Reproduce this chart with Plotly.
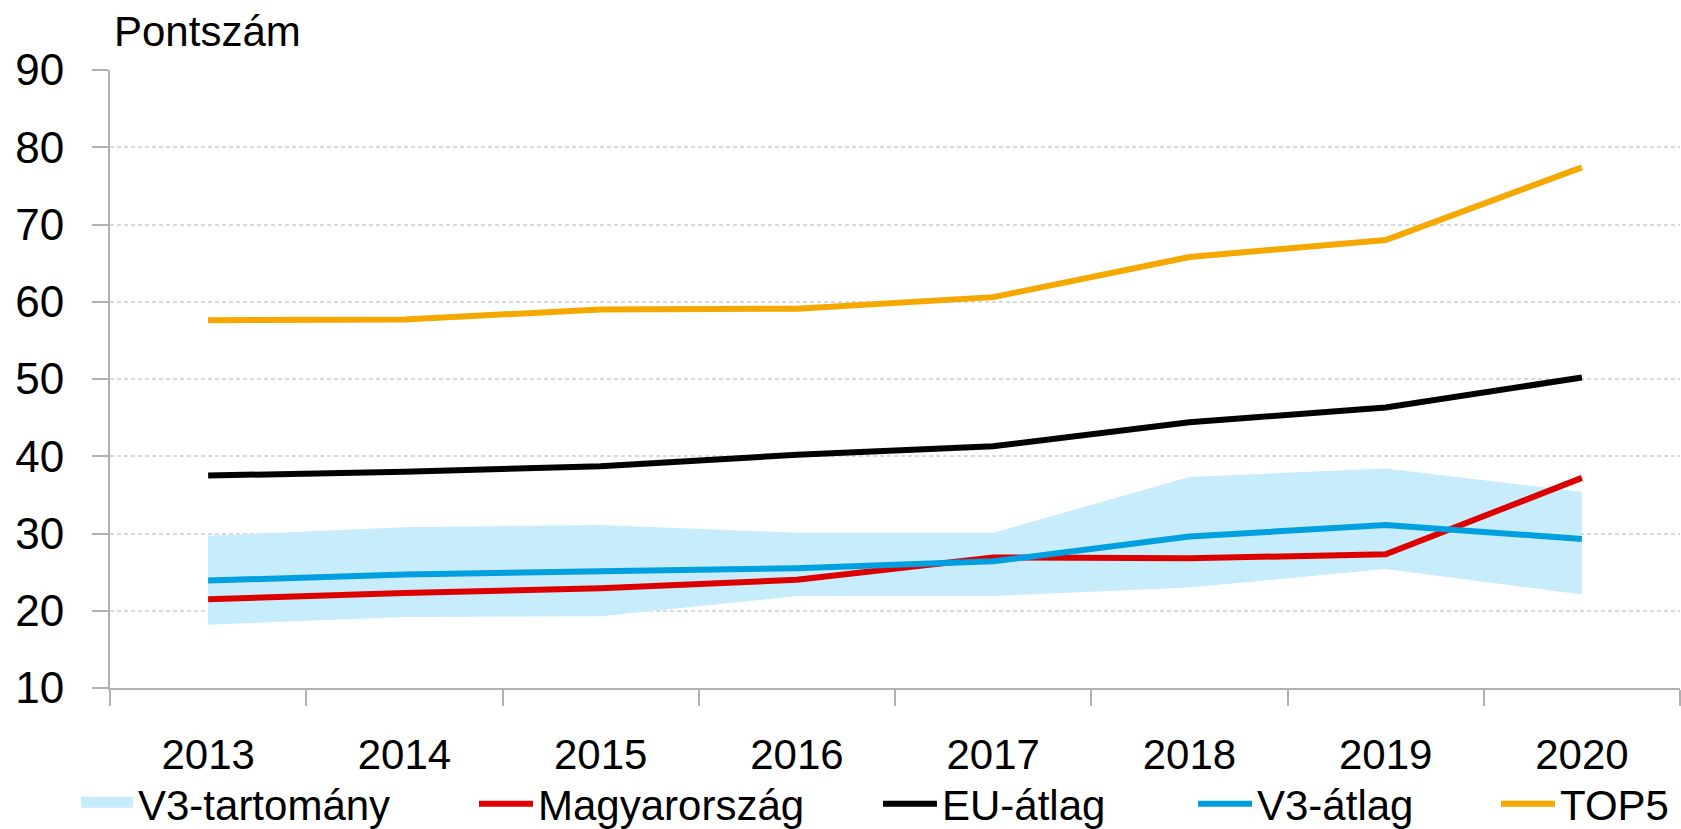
import plotly.graph_objects as go

years = ["2013", "2014", "2015", "2016", "2017", "2018", "2019", "2020"]
v3_low = [18.2, 19.2, 19.3, 21.9, 21.9, 23.0, 25.4, 22.1]
v3_high = [29.7, 30.8, 31.1, 30.1, 30.1, 37.3, 38.4, 35.4]
hungary = [21.5, 22.3, 22.9, 24.0, 26.9, 26.8, 27.3, 37.2]
eu_avg = [37.5, 38.0, 38.7, 40.2, 41.3, 44.4, 46.3, 50.2]
v3_avg = [23.9, 24.7, 25.1, 25.5, 26.4, 29.6, 31.1, 29.3]
top5 = [57.6, 57.7, 59.0, 59.1, 60.6, 65.8, 68.0, 77.4]
y_ticks = [10, 20, 30, 40, 50, 60, 70, 80, 90]

BAND = "#C7ECFC"
RED = "#DC0000"
BLACK = "#000000"
BLUE = "#009FE0"
ORANGE = "#F5A800"
FONT = "Liberation Sans"
W, H = 1681, 829
ML, MR, MT, MB = 110, 1, 70, 141
PW, PH = W - ML - MR, H - MT - MB
LW = 6

fig = go.Figure()
fig.add_trace(go.Scatter(x=years, y=v3_low, mode="lines", line=dict(width=0, color=BAND),
                         showlegend=False, hoverinfo="skip"))
fig.add_trace(go.Scatter(x=years, y=v3_high, mode="lines", line=dict(width=0, color=BAND),
                         fill="tonexty", fillcolor=BAND, name="V3-tartomány", showlegend=False))
# legend-only entry for the band (bigger swatch)
fig.add_trace(go.Scatter(x=[None], y=[None], mode="lines", line=dict(width=10, color=BAND),
                         fill="toself", fillcolor=BAND, name="V3-tartomány", legend="legend"))
fig.add_trace(go.Scatter(x=years, y=hungary, mode="lines", line=dict(width=LW, color=RED),
                         name="Magyarország", legend="legend2"))
fig.add_trace(go.Scatter(x=years, y=eu_avg, mode="lines", line=dict(width=LW, color=BLACK),
                         name="EU-átlag", legend="legend3"))
fig.add_trace(go.Scatter(x=years, y=v3_avg, mode="lines", line=dict(width=LW, color=BLUE),
                         name="V3-átlag", legend="legend4"))
fig.add_trace(go.Scatter(x=years, y=top5, mode="lines", line=dict(width=LW, color=ORANGE),
                         name="TOP5", legend="legend5"))

leg_y = 1 - 804 / H
def leg(xpix, iw=54):
    return dict(x=xpix / W, xref="container", y=leg_y, yref="container", xanchor="left",
                yanchor="middle", orientation="h", font=dict(family=FONT, size=42, color="black"),
                bgcolor="rgba(0,0,0,0)", borderwidth=0, itemwidth=iw)

fig.update_layout(
    width=W, height=H,
    margin=dict(l=ML, r=MR, t=MT, b=MB, autoexpand=False),
    paper_bgcolor="white", plot_bgcolor="white",
    font=dict(family=FONT, size=44, color="black"),
    legend=leg(76, 52), legend2=leg(474), legend3=leg(878), legend4=leg(1193), legend5=leg(1496),
    xaxis=dict(type="category", tickson="boundaries", range=[-0.5, 7.5], showgrid=False,
               showline=True, linecolor="#B0B0B0", linewidth=2, ticks="outside", ticklen=16,
               tickwidth=2, tickcolor="#B0B0B0", tickfont=dict(family=FONT, size=42, color="black"),
               ticklabelstandoff=29),
    yaxis=dict(range=[10, 90], tickvals=y_ticks, showgrid=True, gridcolor="#D9D9D9", gridwidth=1.5,
               griddash="4px,3px", showline=True, linecolor="#B0B0B0", linewidth=2, ticks="outside",
               ticklen=16, tickwidth=2, tickcolor="#B0B0B0", zeroline=False,
               tickfont=dict(family=FONT, size=44, color="black"), ticklabelstandoff=19),
    annotations=[dict(text="Pontszám", xref="paper", yref="paper", x=(112 - ML) / PW,
                      y=(H - MB - 32) / PH, xanchor="left", yanchor="middle", showarrow=False,
                      font=dict(family=FONT, size=42, color="black"))],
)
fig.write_html("out.html", config={"displayModeBar": False},
               post_script="document.body.style.margin='0';document.body.style.padding='0';"
                           "document.body.style.overflow='hidden';")
